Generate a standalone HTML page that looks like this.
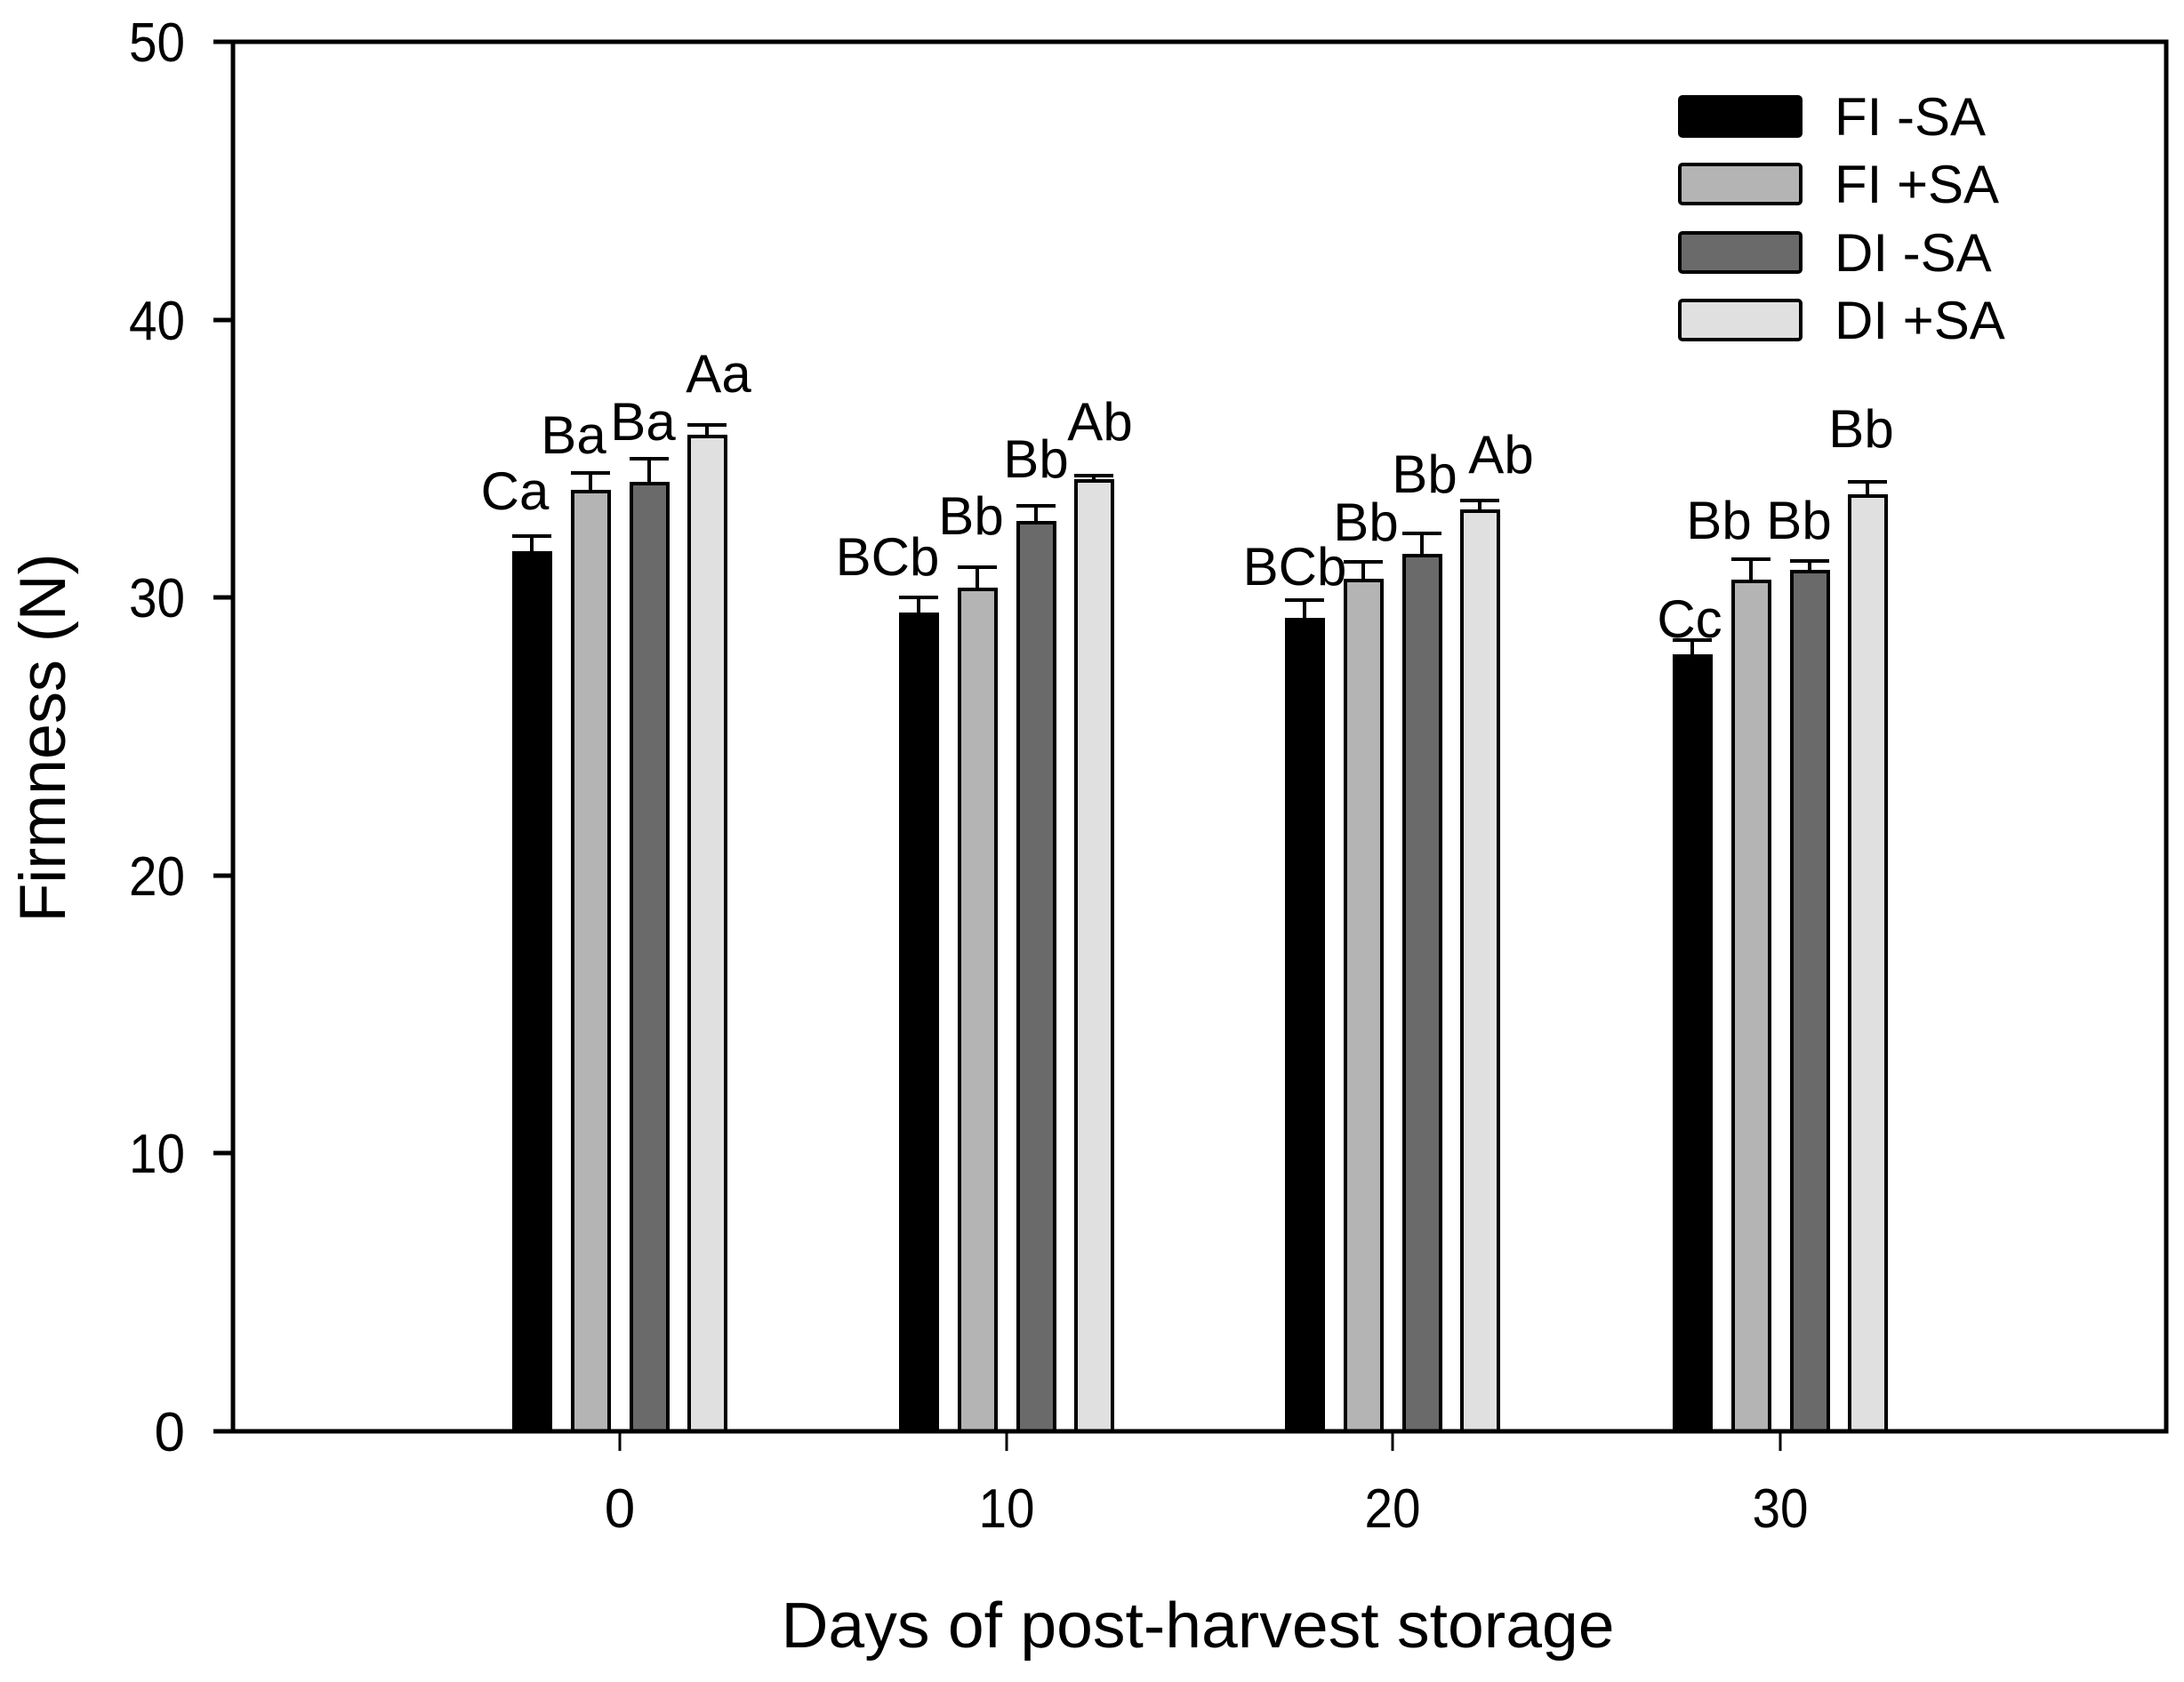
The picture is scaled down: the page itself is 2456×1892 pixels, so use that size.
<!DOCTYPE html>
<html><head><meta charset="utf-8"><style>html,body{margin:0;padding:0;background:#fff}svg{display:block}</style></head>
<body>
<svg width="2456" height="1892" viewBox="0 0 2456 1892" xmlns="http://www.w3.org/2000/svg" font-family="Liberation Sans, Arial, sans-serif">
<rect width="2456" height="1892" fill="#fff"/>
<g stroke="#000" stroke-width="4">
<line x1="598" y1="603" x2="598" y2="622"/><line x1="576" y1="603" x2="620" y2="603"/>
<line x1="664" y1="532" x2="664" y2="553"/><line x1="642" y1="532" x2="686" y2="532"/>
<line x1="730" y1="516" x2="730" y2="544"/><line x1="708" y1="516" x2="752" y2="516"/>
<line x1="795" y1="478" x2="795" y2="491"/><line x1="773" y1="478" x2="817" y2="478"/>
<rect x="578" y="622" width="41" height="988" fill="#000"/>
<rect x="644" y="553" width="41" height="1057" fill="#b4b4b4"/>
<rect x="710" y="544" width="41" height="1066" fill="#6a6a6a"/>
<rect x="775" y="491" width="41" height="1119" fill="#e0e0e0"/>
<line x1="1033" y1="672" x2="1033" y2="691"/><line x1="1011" y1="672" x2="1055" y2="672"/>
<line x1="1099" y1="638" x2="1099" y2="663"/><line x1="1077" y1="638" x2="1121" y2="638"/>
<line x1="1165" y1="569" x2="1165" y2="588"/><line x1="1143" y1="569" x2="1187" y2="569"/>
<line x1="1230" y1="535" x2="1230" y2="541"/><line x1="1208" y1="535" x2="1252" y2="535"/>
<rect x="1013" y="691" width="41" height="919" fill="#000"/>
<rect x="1079" y="663" width="41" height="947" fill="#b4b4b4"/>
<rect x="1145" y="588" width="41" height="1022" fill="#6a6a6a"/>
<rect x="1210" y="541" width="41" height="1069" fill="#e0e0e0"/>
<line x1="1467" y1="675" x2="1467" y2="697"/><line x1="1445" y1="675" x2="1489" y2="675"/>
<line x1="1533" y1="632" x2="1533" y2="653"/><line x1="1511" y1="632" x2="1555" y2="632"/>
<line x1="1599" y1="600" x2="1599" y2="625"/><line x1="1577" y1="600" x2="1621" y2="600"/>
<line x1="1664" y1="563" x2="1664" y2="575"/><line x1="1642" y1="563" x2="1686" y2="563"/>
<rect x="1447" y="697" width="41" height="913" fill="#000"/>
<rect x="1513" y="653" width="41" height="957" fill="#b4b4b4"/>
<rect x="1579" y="625" width="41" height="985" fill="#6a6a6a"/>
<rect x="1644" y="575" width="41" height="1035" fill="#e0e0e0"/>
<line x1="1903" y1="720" x2="1903" y2="738"/><line x1="1881" y1="720" x2="1925" y2="720"/>
<line x1="1969" y1="629" x2="1969" y2="654"/><line x1="1947" y1="629" x2="1991" y2="629"/>
<line x1="2035" y1="631" x2="2035" y2="643"/><line x1="2013" y1="631" x2="2057" y2="631"/>
<line x1="2100" y1="542" x2="2100" y2="558"/><line x1="2078" y1="542" x2="2122" y2="542"/>
<rect x="1883" y="738" width="41" height="872" fill="#000"/>
<rect x="1949" y="654" width="41" height="956" fill="#b4b4b4"/>
<rect x="2015" y="643" width="41" height="967" fill="#6a6a6a"/>
<rect x="2080" y="558" width="41" height="1052" fill="#e0e0e0"/>
</g>
<g stroke="#000" stroke-width="5" fill="none">
<rect x="262" y="47" width="2174" height="1563"/>
<line x1="240" y1="47" x2="262" y2="47"/>
<line x1="240" y1="360" x2="262" y2="360"/>
<line x1="240" y1="672" x2="262" y2="672"/>
<line x1="240" y1="985" x2="262" y2="985"/>
<line x1="240" y1="1297" x2="262" y2="1297"/>
<line x1="240" y1="1610" x2="262" y2="1610"/>
</g>
<g stroke="#000" stroke-width="3">
<line x1="697" y1="1610" x2="697" y2="1632"/>
<line x1="1132" y1="1610" x2="1132" y2="1632"/>
<line x1="1566" y1="1610" x2="1566" y2="1632"/>
<line x1="2002" y1="1610" x2="2002" y2="1632"/>
</g>
<g font-size="62" text-anchor="end" fill="#000">
<text x="208" y="69" textLength="63" lengthAdjust="spacingAndGlyphs">50</text>
<text x="208" y="382" textLength="63" lengthAdjust="spacingAndGlyphs">40</text>
<text x="208" y="694" textLength="63" lengthAdjust="spacingAndGlyphs">30</text>
<text x="208" y="1007" textLength="63" lengthAdjust="spacingAndGlyphs">20</text>
<text x="208" y="1319" textLength="63" lengthAdjust="spacingAndGlyphs">10</text>
<text x="208" y="1632">0</text>
</g>
<g font-size="62" text-anchor="middle" fill="#000">
<text x="697" y="1718">0</text>
<text x="1132" y="1718" textLength="63" lengthAdjust="spacingAndGlyphs">10</text>
<text x="1566" y="1718" textLength="63" lengthAdjust="spacingAndGlyphs">20</text>
<text x="2002" y="1718" textLength="63" lengthAdjust="spacingAndGlyphs">30</text>
</g>
<text x="1347" y="1853" font-size="72" text-anchor="middle" textLength="937" lengthAdjust="spacingAndGlyphs">Days of post-harvest storage</text>
<text transform="translate(73,830) rotate(-90)" font-size="73" text-anchor="middle" textLength="415" lengthAdjust="spacingAndGlyphs">Firmness (N)</text>
<g font-size="60" text-anchor="middle" fill="#000">
<text x="579" y="573">Ca</text><text x="645" y="510">Ba</text><text x="723" y="495">Ba</text><text x="808" y="441">Aa</text>
<text x="998" y="647">BCb</text><text x="1092" y="601">Bb</text><text x="1165" y="537">Bb</text><text x="1237" y="495">Ab</text>
<text x="1456" y="658">BCb</text><text x="1536" y="608">Bb</text><text x="1602" y="554">Bb</text><text x="1688" y="532">Ab</text>
<text x="1900" y="717">Cc</text><text x="1933" y="606">Bb</text><text x="2023" y="606">Bb</text><text x="2093" y="503">Bb</text>
</g>
<g stroke="#000" stroke-width="4">
<rect x="1889" y="109" width="136" height="44" rx="3" fill="#000"/>
<rect x="1889" y="185" width="136" height="44" rx="3" fill="#b4b4b4"/>
<rect x="1889" y="262" width="136" height="44" rx="3" fill="#6a6a6a"/>
<rect x="1889" y="338" width="136" height="44" rx="3" fill="#e0e0e0"/>
</g>
<g font-size="60" fill="#000">
<text x="2063" y="152">FI -SA</text>
<text x="2063" y="228">FI +SA</text>
<text x="2063" y="305">DI -SA</text>
<text x="2063" y="381">DI +SA</text>
</g>
</svg>
</body></html>
